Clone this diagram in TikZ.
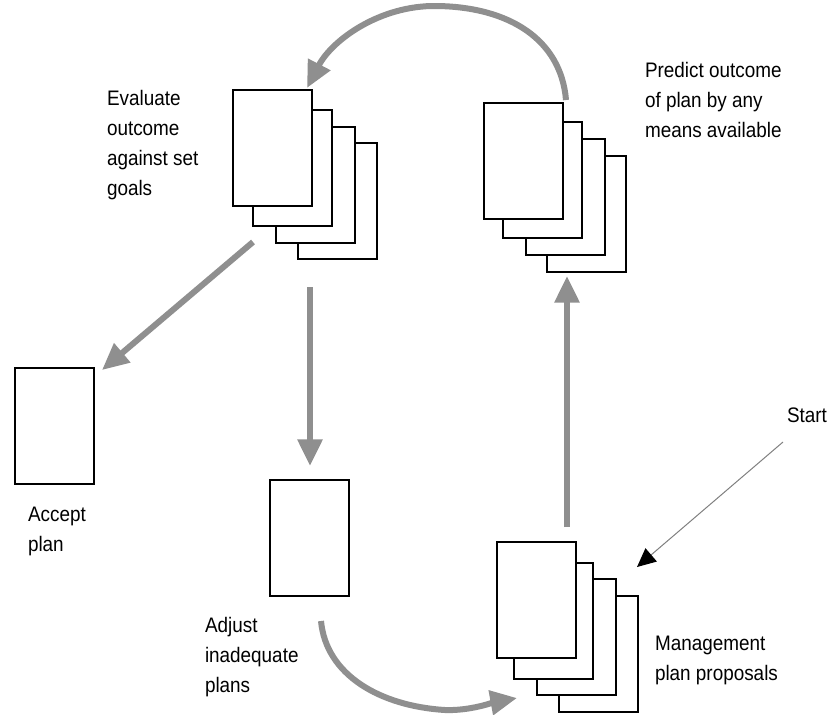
\documentclass[tikz,border=0pt]{standalone}
\usepackage{fontspec}
\setmainfont{Liberation Sans}[FakeStretch=0.9]
\usetikzlibrary{arrows.meta}
\definecolor{arrowgrey}{HTML}{8F8F8F}
\definecolor{startgrey}{HTML}{808080}
\begin{document}
\begin{tikzpicture}[x=0.75pt,y=-0.75pt,
  page/.style={draw=black, fill=white, line width=1.1pt, anchor=north west,
    minimum width=59.25pt, minimum height=87pt, inner sep=0pt, outer sep=0pt},
  frontpage/.style={page, line width=1.9pt},
  lbl/.style={anchor=base west, align=left, inner sep=0pt, outer sep=0pt,
    font=\fontsize{15.75}{22.5}\selectfont},
  garrow/.style={draw=arrowgrey, line width=4.5pt,
    -{Triangle[length=20pt,width=18pt,fill=arrowgrey,color=arrowgrey]}},
  startarrow/.style={draw=startgrey, line width=0.75pt,
    -{Triangle[length=14pt,width=13pt,fill=black,color=black]}}]
\useasboundingbox (0,0) rectangle (838,714);
\fill[white] (0,0) rectangle (838,714);

% Evaluate stack
\node[page] (ev4) at (298,143) {};
\node[page] (ev3) at (276,127) {};
\node[page] (ev2) at (253,110) {};
\node[frontpage] (ev1) at (233,90) {};

% Predict stack
\node[page] (pr4) at (547,156) {};
\node[page] (pr3) at (526,139) {};
\node[page] (pr2) at (503,122) {};
\node[page] (pr1) at (484,103) {};

% Management stack
\node[page] (mg4) at (559,596) {};
\node[page] (mg3) at (537,579) {};
\node[page] (mg2) at (514,563) {};
\node[page] (mg1) at (497,542) {};

% Single pages
\node[page] (acc) at (15,368) {};
\node[page] (adj) at (270,480) {};

% Labels (anchored at the baseline of the last line)
\node[lbl] (evlbl) at (107,195) {Evaluate\\outcome\\against set\\goals};
\node[lbl] (prlbl) at (645,137) {Predict outcome\\of plan by any\\means available};
\node[lbl] (acclbl) at (28,551) {Accept\\plan};
\node[lbl] (adjlbl) at (205,692) {Adjust\\inadequate\\plans};
\node[lbl] (mglbl) at (655,680) {Management\\plan proposals};
\node[lbl] (startlbl) at (787,422) {Start};

% Arrow end points
\coordinate (a1s) at (566,100);
\coordinate (a1m) at (437,6);
\coordinate (a1e) at (307,88);
\coordinate (a2s) at (253,242);
\coordinate (a2e) at (102,370);
\coordinate (a3s) at (310,287);
\coordinate (a3e) at (310,466);
\coordinate (a4s) at (567,527);
\coordinate (a4e) at (567,276);
\coordinate (a5s) at (321,621);
\coordinate (a5m) at (445,710);
\coordinate (a5e) at (517,698);
\coordinate (a6s) at (783,442);
\coordinate (a6e) at (637,567);

\draw[garrow] (a1s) .. controls (561,40) and (510,7) .. (a1m)
  .. controls (380,5) and (332,40) .. (a1e);
\draw[garrow] (a2s) -- (a2e);
\draw[garrow] (a3s) -- (a3e);
\draw[garrow] (a4s) -- (a4e);
\draw[garrow] (a5s) .. controls (326,675) and (380,706) .. (a5m)
  .. controls (470,711) and (495,702) .. (a5e);
\draw[startarrow] (a6s) -- (a6e);
\end{tikzpicture}
\end{document}
